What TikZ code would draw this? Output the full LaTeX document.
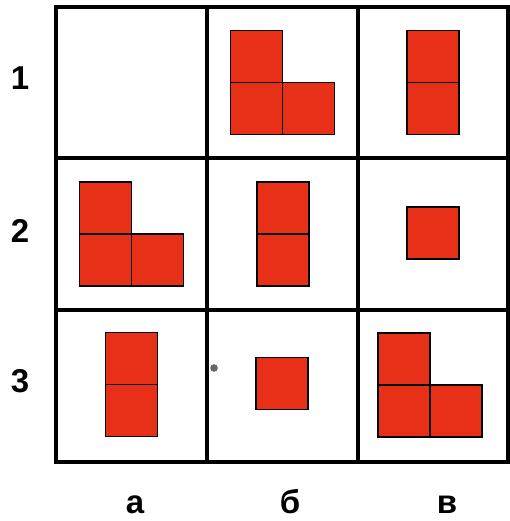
\documentclass[tikz,border=0pt]{standalone}
\usepackage{fontspec}
\setmainfont{Liberation Sans}
\definecolor{tilered}{RGB}{232,48,24}
\begin{document}
\begin{tikzpicture}[x=1pt,y=-1pt,
  sq/.style={draw=black,fill=tilered,line width=1.3pt,minimum size=52pt,inner sep=0pt,outer sep=0pt},
  grid/.style={line width=4.5pt,line cap=rect},
  lbl/.style={font=\bfseries\fontsize{33}{36}\selectfont,inner sep=0pt,anchor=base}]
\useasboundingbox (0,0) rectangle (510,521);
% grid
\draw[grid] (56,7) rectangle (508,462);
\draw[grid] (207,7) -- (207,462);
\draw[grid] (358,7) -- (358,462);
\draw[grid] (56,158) -- (508,158);
\draw[grid] (56,310) -- (508,310);
% row labels
\node[lbl] (r1) at (20,90) {1};
\node[lbl] (r2) at (20,242) {2};
\node[lbl] (r3) at (20,392) {3};
% column labels
\node[lbl] (ca) at (135,513) {а};
\node[lbl] (cb) at (290,513) {б};
\node[lbl] (cc) at (447,513) {в};
% cell 1b: L
\node[sq] (b1a) at (256.5,56.5) {};
\node[sq] (b1b) at (256.5,108.5) {};
\node[sq] (b1c) at (308.5,108.5) {};
% cell 1c: domino
\node[sq] (c1a) at (433,56.5) {};
\node[sq] (c1b) at (433,108.5) {};
% cell 2a: L
\node[sq] (a2a) at (105.5,208) {};
\node[sq] (a2b) at (105.5,260) {};
\node[sq] (a2c) at (157.5,260) {};
% cell 2b: domino
\node[sq] (b2a) at (283,208) {};
\node[sq] (b2b) at (283,260) {};
% cell 2c: single
\node[sq] (c2a) at (433,233) {};
% cell 3a: domino
\node[sq] (a3a) at (131.5,358.5) {};
\node[sq] (a3b) at (131.5,410.5) {};
% cell 3b: single
\node[sq] (b3a) at (282,383.5) {};
% cell 3c: L
\node[sq] (c3a) at (404,359) {};
\node[sq] (c3b) at (404,411) {};
\node[sq] (c3c) at (456,411) {};
% speck
\fill[gray!80!black] (214,368) circle (3.8pt);
\end{tikzpicture}
\end{document}
